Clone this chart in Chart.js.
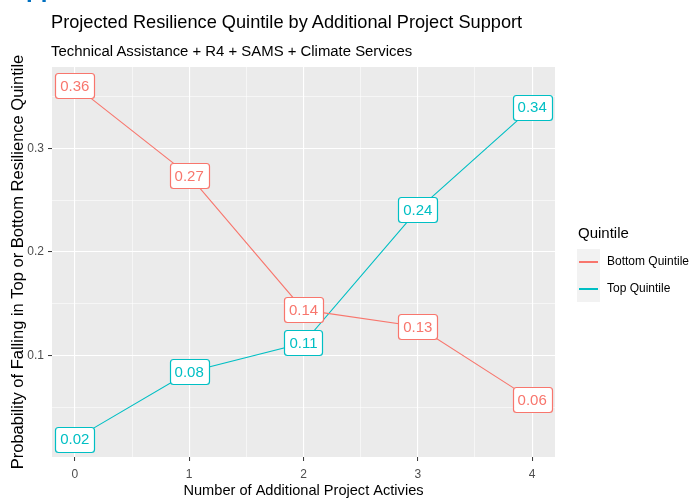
<!DOCTYPE html>
<html>
<head>
<meta charset="utf-8">
<script src="https://cdn.jsdelivr.net/npm/chart.js@4/dist/chart.umd.min.js"></script>
<style>
  body { margin: 0; background: #fff; font-family: "Liberation Sans", Arial, sans-serif; }
  #wrap { position: relative; width: 691px; height: 498px; overflow: hidden; }
  #chart { position: absolute; left: 0; top: 0; }
  .txt { position: absolute; white-space: nowrap; color: #000; }
  #frag { left: 26px; top: -25px; font-size: 24px; font-weight: bold; color: #0070c0; }
  #title { left: 51px; top: 12px; font-size: 18.2px; }
  #subtitle { left: 51px; top: 43px; font-size: 14.9px; }
  #legend-title { left: 578px; top: 224px; font-size: 15px; }
  #legend-keys { position: absolute; left: 577px; top: 249px; width: 23px; height: 53px; background: #f2f2f2; }
  .key { position: absolute; left: 2px; width: 19px; height: 2px; }
  .key-label { font-size: 12px; left: 607px; }
</style>
</head>
<body>
<div id="wrap">
  <canvas id="chart" width="691" height="498"></canvas>
  <div id="frag" class="txt">pp</div>
  <div id="title" class="txt">Projected Resilience Quintile by Additional Project Support</div>
  <div id="subtitle" class="txt">Technical Assistance + R4 + SAMS + Climate Services</div>
  <div id="legend-title" class="txt">Quintile</div>
  <div id="legend-keys"></div>
</div>
<script>
// values; labels print them rounded to 2 places
var activities = [0, 1, 2, 3, 4];
var seriesNames = ['Bottom Quintile', 'Top Quintile'];
var bottomQuintile = [0.361, 0.274, 0.144, 0.128, 0.057];
var topQuintile = [0.019, 0.084, 0.112, 0.241, 0.340];
var xTicks = [0, 0.5, 1, 1.5, 2, 2.5, 3, 3.5, 4];
var yTicks = [0.05, 0.1, 0.15, 0.2, 0.25, 0.3, 0.35];

var colors = ['#F8766D', '#00BFC4'];
var FONT = '"Liberation Sans", Arial, sans-serif';


var toPoints = function(values) {
  var pts = [];
  for (var i = 0; i < activities.length; i++) {
    pts.push({x: activities[i], y: values[i]});
  }
  return pts;
};


// ggplot grey panel behind the grid
var panelPlugin = {
  id: 'panel',
  beforeDraw: function(chart) {
    var a = chart.chartArea;
    var ctx = chart.ctx;
    ctx.save();
    ctx.fillStyle = '#EBEBEB';
    ctx.fillRect(a.left, a.top, a.right - a.left, a.bottom - a.top);
    ctx.restore();
  },
};


// boxed value labels, like geom_label
var labelPlugin = {
  id: 'boxLabels',
  afterDatasetsDraw: function(chart) {
    var ctx = chart.ctx;
    ctx.save();
    ctx.font = '15px ' + FONT;
    ctx.textAlign = 'center';
    ctx.textBaseline = 'middle';
    chart.data.datasets.forEach(function(ds, di) {
      var meta = chart.getDatasetMeta(di);
      meta.data.forEach(function(el, i) {
        var text = ds.data[i].y.toFixed(2);
        var w = ctx.measureText(text).width + 10;
        var h = 25;
        var x = el.x - w / 2;
        var y = el.y - h / 2;
        ctx.beginPath();
        ctx.roundRect(Math.round(x) + 0.5, Math.round(y) + 0.5, Math.round(w), h, 3);
        ctx.fillStyle = '#fff';
        ctx.fill();
        ctx.lineWidth = 1.2;
        ctx.strokeStyle = ds.borderColor;
        ctx.stroke();
        ctx.fillStyle = ds.borderColor;
        ctx.fillText(text, el.x, el.y + 1);
      });
    });
    ctx.restore();
  },
};


var gridOpts = function(majorTest) {
  return {
    color: '#FFFFFF',
    lineWidth: function(c) { return majorTest(c.tick.value) ? 1.1 : 0.55; },
    tickColor: function(c) { return majorTest(c.tick.value) ? '#333333' : 'rgba(0,0,0,0)'; },
    tickLength: 4,
    tickWidth: 1,
    drawTicks: true,
  };
};

var xMajor = function(v) { return Math.abs(v - Math.round(v)) < 1e-6; };
var yMajor = function(v) { return Math.abs(v * 10 - Math.round(v * 10)) < 1e-6; };

var datasets = [bottomQuintile, topQuintile].map(function(values, i) {
  return {
    label: seriesNames[i],
    data: toPoints(values),
    borderColor: colors[i],
    backgroundColor: colors[i],
    borderWidth: 1.1,
    pointRadius: 0,
    tension: 0,
  };
});

new Chart(document.getElementById('chart'), {
  type: 'line',
  data: {datasets: datasets},
  options: {
    responsive: false,
    animation: false,
    layout: {padding: {left: 9, right: 136, top: 67, bottom: 0}},
    plugins: {
      legend: {display: false},
      tooltip: {enabled: false},
    },
    scales: {
      x: {
        type: 'linear',
        min: -0.2,
        max: 4.2,
        afterBuildTicks: function(s) {
          s.ticks = xTicks.map(function(v) { return {value: v}; });
        },
        afterFit: function(s) { s.height = 41; },
        border: {display: false},
        grid: gridOpts(xMajor),
        ticks: {
          color: '#4D4D4D',
          font: {family: FONT, size: 12},
          padding: 6,
          maxRotation: 0,
          autoSkip: false,
          callback: function(v) { return xMajor(v) ? String(v) : ''; },
        },
        title: {
          display: true,
          text: 'Number of Additional Project Activies',
          color: '#000',
          font: {family: FONT, size: 14.6, lineHeight: 1},
          padding: 0,
        },
      },
      y: {
        type: 'linear',
        min: 0.0017,
        max: 0.379,
        afterBuildTicks: function(s) {
          s.ticks = yTicks.map(function(v) { return {value: v}; });
        },
        afterFit: function(s) { s.width = 43; },
        border: {display: false},
        grid: gridOpts(yMajor),
        ticks: {
          color: '#4D4D4D',
          font: {family: FONT, size: 12},
          padding: 4,
          autoSkip: false,
          callback: function(v) { return yMajor(v) ? v.toFixed(1) : ''; },
        },
        title: {
          display: true,
          text: 'Probability of Falling in Top or Bottom Resilience Quintile',
          color: '#000',
          font: {family: FONT, size: 16.5, lineHeight: 1.1},
          padding: 0,
        },
      },
    },
  },
  plugins: [panelPlugin, labelPlugin],
});

// legend drawn as html, keys follow the dataset colours
var keys = document.getElementById('legend-keys');
var wrap = document.getElementById('wrap');
for (var i = 0; i < seriesNames.length; i++) {
  var k = document.createElement('div');
  k.className = 'key';
  k.style.top = (12 + i * 27) + 'px';
  k.style.background = colors[i];
  keys.appendChild(k);
  var lab = document.createElement('div');
  lab.className = 'txt key-label';
  lab.style.top = (254 + i * 27) + 'px';
  lab.textContent = seriesNames[i];
  wrap.appendChild(lab);
}
</script>
</body>
</html>
